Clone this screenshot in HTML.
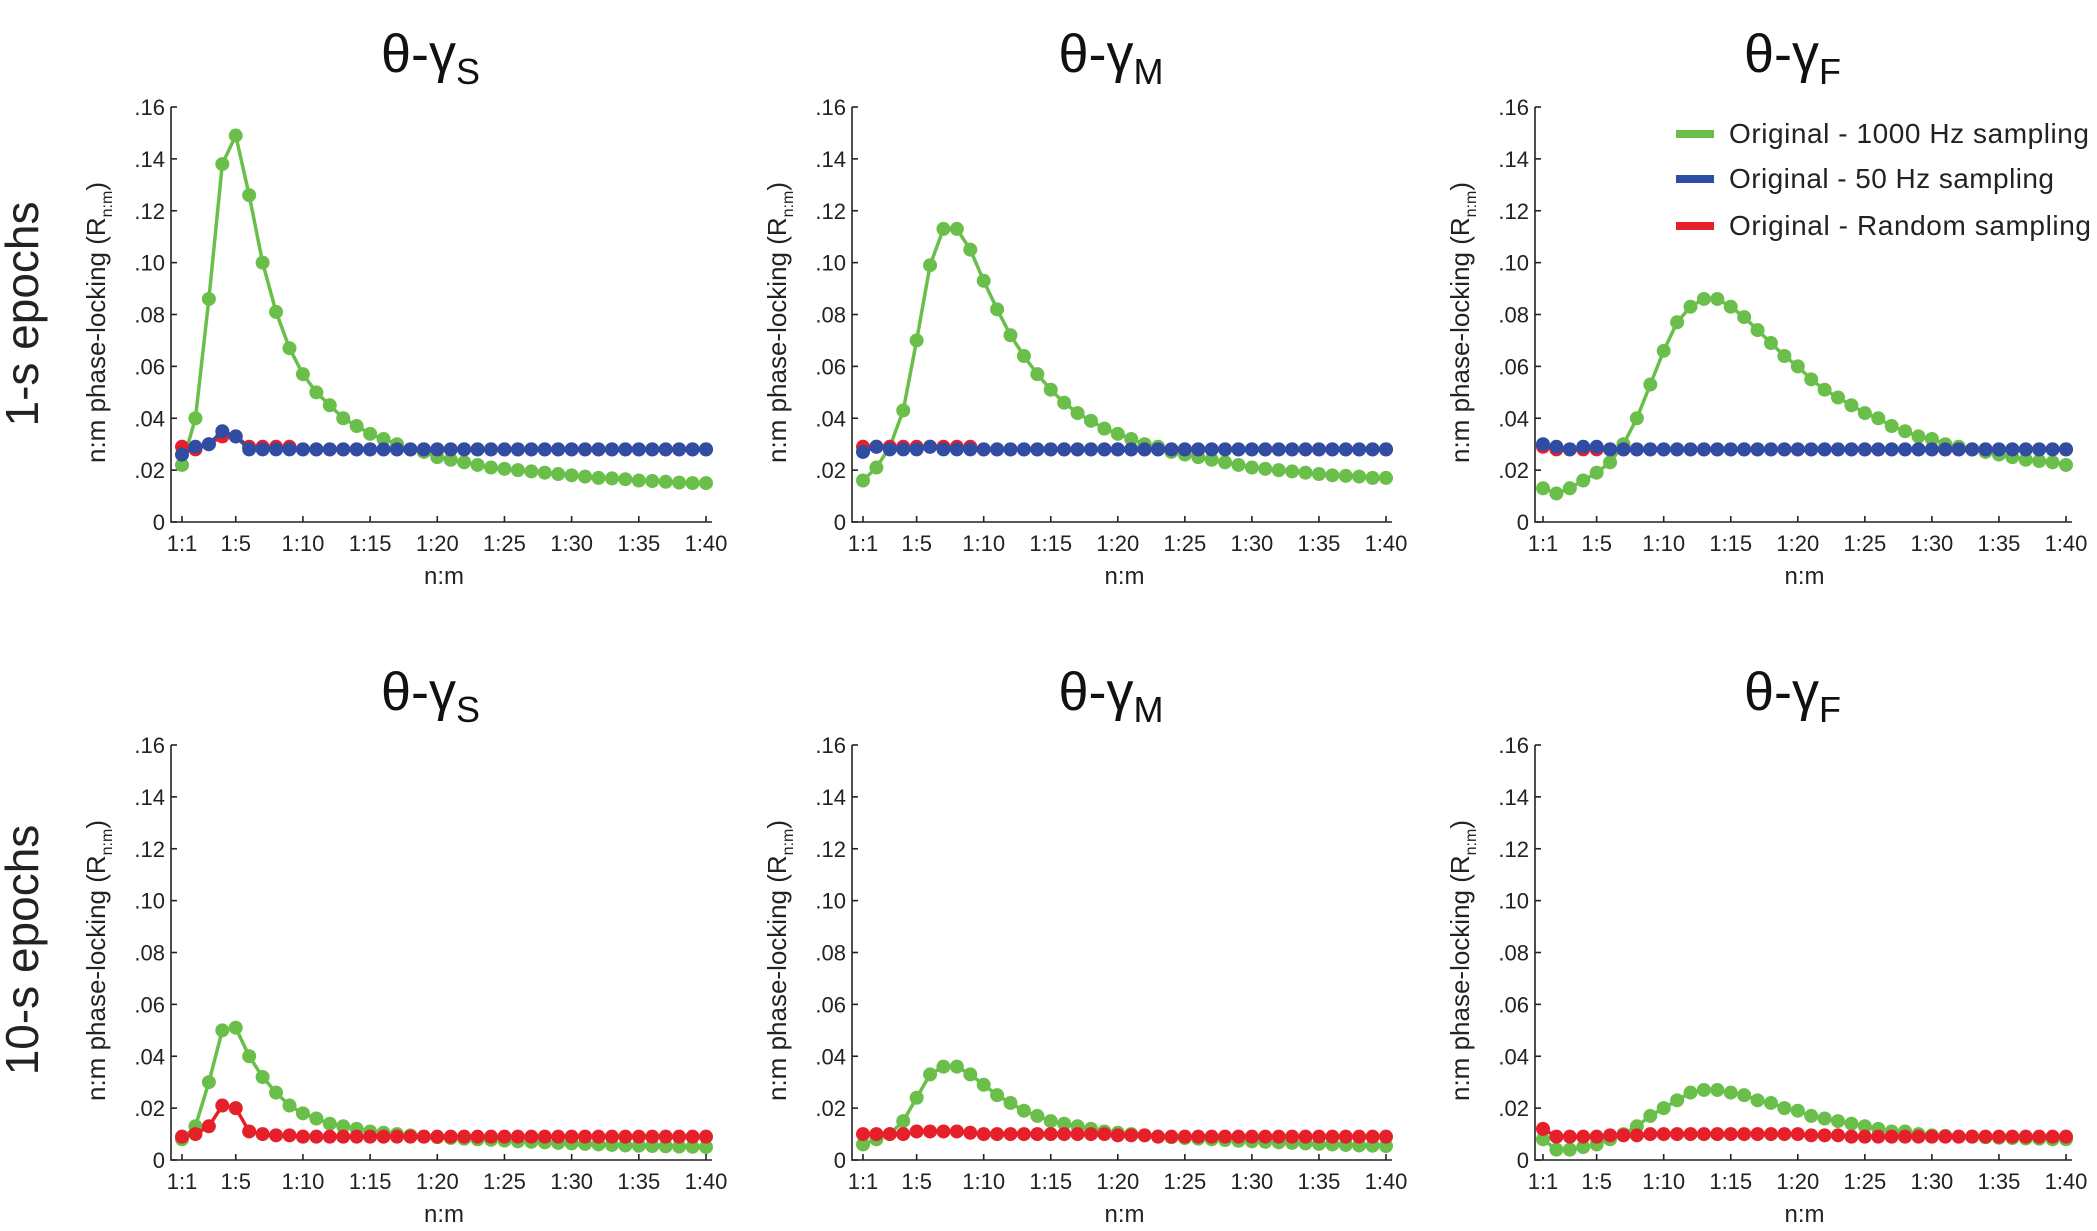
<!DOCTYPE html>
<html><head><meta charset="utf-8">
<style>
html,body{margin:0;padding:0;background:#fff;}
svg{display:block;font-family:"Liberation Sans",Arial,sans-serif;}
</style></head>
<body>
<svg id="fig" width="2097" height="1231" viewBox="0 0 2097 1231" xmlns="http://www.w3.org/2000/svg">
<text transform="translate(38,314) rotate(-90)" text-anchor="middle" font-size="46" fill="#222">1-s epochs</text>
<text transform="translate(38,950) rotate(-90)" text-anchor="middle" font-size="46" fill="#222">10-s epochs</text>
<g id="legend">
<line x1="1676" y1="134" x2="1714" y2="134" stroke="#6abf4b" stroke-width="8"/>
<text x="1729" y="143" font-size="28" textLength="360" fill="#222">Original - 1000 Hz sampling</text>
<line x1="1676" y1="179" x2="1714" y2="179" stroke="#2f4ea3" stroke-width="8"/>
<text x="1729" y="188" font-size="28" textLength="325" fill="#222">Original - 50 Hz sampling</text>
<line x1="1676" y1="226" x2="1714" y2="226" stroke="#e5202a" stroke-width="8"/>
<text x="1729" y="235" font-size="28" textLength="362" fill="#222">Original - Random sampling</text>
</g>
</svg>
<script>
const xTickVals=[1,5,10,15,20,25,30,35,40];
const xTickLabels=["1:1","1:5","1:10","1:15","1:20","1:25","1:30","1:35","1:40"];
const yTickVals=[0,0.02,0.04,0.06,0.08,0.10,0.12,0.14,0.16];
const yTickLabels=["0",".02",".04",".06",".08",".10",".12",".14",".16"];
const titleSubs=["S","M","F"];

const g1s_S=[.022,.040,.086,.138,.149,.126,.100,.081,.067,.057,.050,.045,.040,.037,.034,.032,.030,.028,.027,.025,.024,.023,.022,.021,.0205,.020,.0195,.019,.0185,.018,.0175,.017,.0168,.0165,.016,.0158,.0155,.0152,.015,.015];
const b1s_S=[.026,.029,.030,.035,.033,.028,.028,.028,.028,.028,.028,.028,.028,.028,.028,.028,.028,.028,.028,.028,.028,.028,.028,.028,.028,.028,.028,.028,.028,.028,.028,.028,.028,.028,.028,.028,.028,.028,.028,.028];
const r1s_S=[.029,.028,.030,.033,.033,.029,.029,.029,.029,.028,.028,.028,.028,.028,.028,.028,.028,.028,.028,.028,.028,.028,.028,.028,.028,.028,.028,.028,.028,.028,.028,.028,.028,.028,.028,.028,.028,.028,.028,.028];

const g1s_M=[.016,.021,.029,.043,.070,.099,.113,.113,.105,.093,.082,.072,.064,.057,.051,.046,.042,.039,.036,.034,.032,.030,.029,.027,.026,.025,.024,.023,.022,.021,.0205,.020,.0195,.019,.0185,.018,.0178,.0175,.017,.017];
const b1s_M=[.027,.029,.028,.028,.028,.029,.028,.028,.028,.028,.028,.028,.028,.028,.028,.028,.028,.028,.028,.028,.028,.028,.028,.028,.028,.028,.028,.028,.028,.028,.028,.028,.028,.028,.028,.028,.028,.028,.028,.028];
const r1s_M=[.029,.029,.029,.029,.029,.029,.029,.029,.029,.028,.028,.028,.028,.028,.028,.028,.028,.028,.028,.028,.028,.028,.028,.028,.028,.028,.028,.028,.028,.028,.028,.028,.028,.028,.028,.028,.028,.028,.028,.028];

const g1s_F=[.013,.011,.013,.016,.019,.023,.030,.040,.053,.066,.077,.083,.086,.086,.083,.079,.074,.069,.064,.060,.055,.051,.048,.045,.042,.040,.037,.035,.033,.032,.030,.029,.028,.027,.026,.025,.024,.0235,.023,.022];
const b1s_F=[.030,.029,.028,.029,.029,.028,.028,.028,.028,.028,.028,.028,.028,.028,.028,.028,.028,.028,.028,.028,.028,.028,.028,.028,.028,.028,.028,.028,.028,.028,.028,.028,.028,.028,.028,.028,.028,.028,.028,.028];
const r1s_F=[.029,.028,.028,.028,.028,.028,.028,.028,.028,.028,.028,.028,.028,.028,.028,.028,.028,.028,.028,.028,.028,.028,.028,.028,.028,.028,.028,.028,.028,.028,.028,.028,.028,.028,.028,.028,.028,.028,.028,.028];

const g10_S=[.008,.013,.030,.050,.051,.040,.032,.026,.021,.018,.016,.014,.013,.012,.011,.0105,.010,.0095,.009,.0088,.0085,.0082,.008,.0078,.0075,.0072,.007,.0068,.0066,.0064,.0062,.006,.0058,.0056,.0055,.0054,.0053,.0052,.0051,.005];
const r10_S=[.009,.010,.013,.021,.020,.011,.010,.0095,.0095,.009,.009,.009,.009,.009,.009,.009,.009,.009,.009,.009,.009,.009,.009,.009,.009,.009,.009,.009,.009,.009,.009,.009,.009,.009,.009,.009,.009,.009,.009,.009];

const g10_M=[.006,.008,.010,.015,.024,.033,.036,.036,.033,.029,.025,.022,.019,.017,.015,.014,.013,.012,.011,.0105,.010,.0095,.009,.0088,.0085,.0082,.008,.0077,.0074,.0072,.007,.0068,.0066,.0064,.0062,.006,.0058,.0056,.0055,.0054];
const r10_M=[.010,.010,.010,.010,.011,.011,.011,.011,.0105,.010,.010,.010,.010,.010,.010,.010,.010,.010,.010,.0095,.0095,.0095,.009,.009,.009,.009,.009,.009,.009,.009,.009,.009,.009,.009,.009,.009,.009,.009,.009,.009];

const g10_F=[.008,.004,.004,.005,.006,.008,.010,.013,.017,.020,.023,.026,.027,.027,.026,.025,.023,.022,.020,.019,.017,.016,.015,.014,.013,.012,.011,.011,.010,.0095,.0093,.009,.009,.0088,.0086,.0085,.0083,.0082,.008,.008];
const r10_F=[.012,.009,.009,.009,.009,.0095,.0095,.0095,.010,.010,.010,.010,.010,.010,.010,.010,.010,.010,.010,.010,.0095,.0095,.0095,.009,.009,.009,.009,.009,.009,.009,.009,.009,.009,.009,.009,.009,.009,.009,.009,.009];

const NS="http://www.w3.org/2000/svg";
const svg=document.getElementById('fig');
const GREEN="#6abf4b",BLUE="#2f4ea3",RED="#e5202a";
function mk(tag,attrs,parent){const e=document.createElementNS(NS,tag);for(const k in attrs)e.setAttribute(k,attrs[k]);parent.appendChild(e);return e;}

const cols=[{ax:171,x1:182,x40:706},{ax:852,x1:863,x40:1386},{ax:1535,x1:1543,x40:2066}];
const rows=[{top:107,zero:522,title:72},{top:745,zero:1160,title:710}];
const panels=[
 [[g1s_S,r1s_S,b1s_S],[g1s_M,r1s_M,b1s_M],[g1s_F,r1s_F,b1s_F]],
 [[g10_S,r10_S,null],[g10_M,r10_M,null],[g10_F,r10_F,null]]
];
const legendEl=document.getElementById('legend');

rows.forEach((R,ri)=>{cols.forEach((C,ci)=>{
 const g=mk('g',{},svg);
 
 
 const xs=v=>C.x1+(v-1)*(C.x40-C.x1)/39;
 const ys=v=>R.zero-(v/0.16)*(R.zero-R.top);
 const cx=(C.ax+C.x40)/2;
 const t=mk('text',{x:cx-8,y:R.title,'text-anchor':'middle','font-size':54,fill:'#111'},g);
 
 
 t.textContent='θ-γ';
 const ts=mk('tspan',{dy:12,'font-size':36},t);ts.textContent=titleSubs[ci];
 const axis=mk('path',{d:`M${C.ax},${R.top} L${C.ax},${R.zero} L${C.x40+6},${R.zero}`,fill:'none',stroke:'#222','stroke-width':1.6},g);
 
 
 yTickVals.forEach((v,i)=>{
  const y=ys(v);
  mk('line',{x1:C.ax,y1:y,x2:C.ax+6,y2:y,stroke:'#222','stroke-width':1.6},g);
  const l=mk('text',{x:C.ax-6,y:y+8,'text-anchor':'end','font-size':22,fill:'#222'},g);
  
  
  l.textContent=yTickLabels[i];
 });
 xTickVals.forEach((v,i)=>{
  const x=xs(v);
  mk('line',{x1:x,y1:R.zero,x2:x,y2:R.zero-6,stroke:'#222','stroke-width':1.6},g);
  const l=mk('text',{x:x,y:R.zero+29,'text-anchor':'middle','font-size':22,fill:'#222'},g);
  
  
  l.textContent=xTickLabels[i];
 });
 const xt=mk('text',{x:xs(20.5),y:R.zero+62,'text-anchor':'middle','font-size':24,fill:'#222'},g);
 
 
 xt.textContent='n:m';
 const yt=mk('text',{transform:`translate(${C.ax-66},${(R.top+R.zero)/2+8}) rotate(-90)`,'text-anchor':'middle','font-size':26,fill:'#222'},g);
 
 
 yt.textContent='n:m phase-locking (R';
 const sub=mk('tspan',{dy:7,'font-size':16},yt);sub.textContent='n:m';
 const cl=mk('tspan',{dy:-7},yt);cl.textContent=')';
 const series=panels[ri][ci];
 const colors=[GREEN,RED,BLUE];
 const names=['series-1000hz','series-random','series-50hz'];
 series.forEach((arr,si)=>{
  if(!arr)return;
  const sg=mk('g',{},g);
  
  
  const pts=arr.map((v,i)=>xs(i+1)+','+ys(v)).join(' ');
  mk('polyline',{points:pts,fill:'none',stroke:colors[si],'stroke-width':3.5,'stroke-linejoin':'round'},sg);
  arr.forEach((v,i)=>{
   const c=mk('circle',{cx:xs(i+1),cy:ys(v),r:7,fill:colors[si]},sg);
   
   
  });
 });
});});
svg.appendChild(legendEl);
</script>
</body></html>
